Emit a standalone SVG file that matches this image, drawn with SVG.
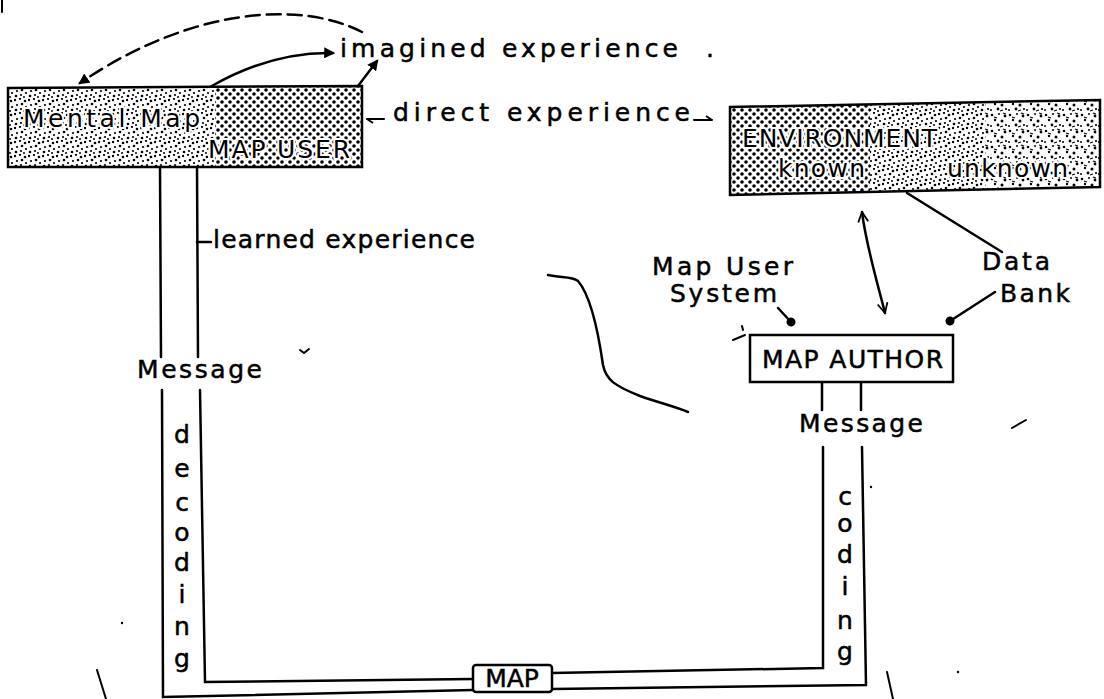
<svg xmlns="http://www.w3.org/2000/svg" width="1104" height="699" viewBox="0 0 1104 699">
<style>
text{font-family:"DejaVu Sans","Liberation Sans",sans-serif;font-size:25px;fill:#000;stroke:#000;stroke-width:0.5;}
.halo{stroke:#fff;stroke-width:4;paint-order:stroke;stroke-linejoin:round;}
.ln{fill:none;stroke:#000;stroke-width:2.5;stroke-linecap:round;}
.thin{fill:none;stroke:#000;stroke-width:2;stroke-linecap:round;}
.box{fill:#fff;stroke:#000;stroke-width:2.5;}
</style>
<defs>
<pattern id="reg" width="8" height="8" patternUnits="userSpaceOnUse">
<rect width="8" height="8" fill="#fff"/>
<circle cx="2" cy="2" r="1.8" fill="#000"/><circle cx="6" cy="6" r="1.8" fill="#000"/>
</pattern>
<pattern id="fine" width="14" height="14" patternUnits="userSpaceOnUse">
<rect width="14" height="14" fill="#fff"/>
<g fill="#000"><circle cx="1" cy="2" r="1.2"/><circle cx="6" cy="1" r="1.1"/><circle cx="11" cy="3" r="1.3"/><circle cx="3" cy="7" r="1.1"/><circle cx="8" cy="6" r="1.3"/><circle cx="12" cy="9" r="1.1"/><circle cx="2" cy="12" r="1.3"/><circle cx="7" cy="11" r="1.1"/><circle cx="10" cy="13" r="1"/></g>
</pattern>
<pattern id="rand" width="18" height="16" patternUnits="userSpaceOnUse">
<rect width="18" height="16" fill="#fff"/>
<g fill="#000"><circle cx="2" cy="3" r="1.3"/><circle cx="9" cy="2" r="1"/><circle cx="15" cy="4" r="1.4"/><circle cx="5" cy="8" r="1.2"/><circle cx="12" cy="9" r="1.5"/><circle cx="1" cy="14" r="1"/><circle cx="8" cy="13" r="1.4"/><circle cx="16" cy="13" r="1.1"/></g>
<g stroke="#000" stroke-width="1.2"><line x1="4" y1="5" x2="7" y2="6"/><line x1="13" y1="1" x2="16" y2="2"/><line x1="10" y1="15" x2="13" y2="14"/></g>
</pattern>
<marker id="fa" viewBox="0 0 10 10" refX="8" refY="5" markerWidth="11" markerHeight="11" markerUnits="userSpaceOnUse" orient="auto">
<path d="M0,0 L10,5 L0,10 Z" fill="#000"/>
</marker>
<marker id="dot" viewBox="0 0 10 10" refX="5" refY="5" markerWidth="10" markerHeight="10" markerUnits="userSpaceOnUse" orient="auto">
<circle cx="5" cy="5" r="4.5" fill="#000"/>
</marker>
<marker id="oa" viewBox="0 0 12 12" refX="11" refY="6" markerWidth="12" markerHeight="12" markerUnits="userSpaceOnUse" orient="auto-start-reverse">
<path d="M1,1 L11,6 L1,11" fill="none" stroke="#000" stroke-width="1.8"/>
</marker>
<marker id="ha" viewBox="0 0 10 10" refX="9" refY="8" markerWidth="10" markerHeight="10" markerUnits="userSpaceOnUse" orient="auto">
<path d="M3,4 L9,8" fill="none" stroke="#000" stroke-width="1.8"/>
</marker>
</defs>

<g id="connectors">
<path class="ln" d="M362,32 C300,0 190,8 80,83" stroke-dasharray="14,7" marker-end="url(#fa)"/>
<path class="ln" d="M210,87 C250,64 290,52 333,53" marker-end="url(#fa)"/>
<path class="ln" d="M358,86 L377,61" marker-end="url(#fa)"/>
<path class="thin" d="M384,119 L367,119" marker-end="url(#ha)"/>
<path class="thin" d="M694,120 L712,120" marker-end="url(#ha)"/>
<path class="ln" d="M907,193 L1002,252"/>
<path class="ln" d="M995,292 L950,321" marker-end="url(#dot)"/>
<path class="ln" d="M778,308 L791,322" marker-end="url(#dot)"/>
<path class="ln" d="M862,212 C866,245 878,285 885,313" marker-start="url(#oa)" marker-end="url(#oa)"/>
<path class="ln" d="M197,242 L211,242"/>
<path class="ln" d="M160,167 L161,357 M162,390 L163,697 L473,690"/>
<path class="ln" d="M197,167 L198,357 M200,390 L205,682 L473,679"/>
<path class="ln" d="M822,382 L822,410 M861,382 L861,410"/>
<path class="ln" d="M823,447 L823,668 L552,673"/>
<path class="ln" d="M862,447 L866,685 L552,689"/>
<path class="ln" d="M548,275 C560,278 572,276 578,281 C590,295 598,330 603,365 C606,380 615,386 640,396 C660,403 676,407 688,412"/>
<path class="thin" d="M2,0 L2,12"/>
<path class="thin" d="M300,350 L304,353 L309,349"/>
<path class="thin" d="M733,340 L745,335"/>
<path class="thin" d="M742,326 L743,330"/>
<path class="thin" d="M1012,428 L1026,420"/>
<path class="thin" d="M887,672 L893,699"/>
<path class="thin" d="M97,670 L106,699"/>
<circle cx="122" cy="623" r="1.2"/>
<circle cx="958" cy="672" r="1.2"/>
<circle cx="871" cy="487" r="1.2"/>
</g>

<g id="map-user">
<path d="M8,88 L362,86 L362,167 L8,167 Z" fill="url(#reg)"/>
<path d="M8,88 L215,87 L215,167 L8,167 Z" fill="url(#fine)"/>
<path d="M8,88 L362,86 L362,167 L8,167 Z" fill="none" stroke="#000" stroke-width="2.5"/>
<text class="halo" x="23" y="127" textLength="177" lengthAdjust="spacing">Mental Map</text>
<text class="halo" x="208" y="158" textLength="142" lengthAdjust="spacing">MAP USER</text>
</g>

<g id="imagined-experience">
<text x="340" y="57" textLength="338" lengthAdjust="spacing">imagined experience</text>
<text x="706" y="57">.</text>
</g>

<g id="direct-experience">
<text x="393" y="121" textLength="297" lengthAdjust="spacing">direct experience</text>
</g>

<g id="environment">
<path d="M730,107 L1100,100 L1100,187 L730,195 Z" fill="url(#reg)"/>
<path d="M870,104 L1100,100 L1100,187 L870,192 Z" fill="url(#fine)"/>
<path d="M985,102 L1100,100 L1100,187 L985,189 Z" fill="url(#rand)"/>
<path d="M730,107 L1100,100 L1100,187 L730,195 Z" fill="none" stroke="#000" stroke-width="2.5"/>
<text class="halo" x="742" y="147" textLength="195" lengthAdjust="spacing">ENVIRONMENT</text>
<text class="halo" x="778" y="177" textLength="87" lengthAdjust="spacing">known</text>
<text class="halo" x="947" y="177" textLength="121" lengthAdjust="spacing">unknown</text>
</g>

<g id="learned-experience">
<text x="213" y="248" textLength="262" lengthAdjust="spacing">learned experience</text>
</g>

<g id="map-user-system">
<text x="652" y="275" textLength="141" lengthAdjust="spacing">Map User</text>
<text x="670" y="302" textLength="107" lengthAdjust="spacing">System</text>
</g>

<g id="data-bank">
<text x="982" y="270" textLength="68" lengthAdjust="spacing">Data</text>
<text x="1000" y="302" textLength="70" lengthAdjust="spacing">Bank</text>
</g>

<g id="map-author">
<rect class="box" x="750" y="335" width="203" height="47"/>
<text x="762" y="368" textLength="181" lengthAdjust="spacing">MAP AUTHOR</text>
</g>

<g id="message-left">
<text x="137" y="378" textLength="125" lengthAdjust="spacing">Message</text>
</g>

<g id="message-right">
<text x="799" y="432" textLength="124" lengthAdjust="spacing">Message</text>
</g>

<g id="decoding" text-anchor="middle">
<text x="182" y="443">d</text>
<text x="182" y="477">e</text>
<text x="182" y="511">c</text>
<text x="182" y="541">o</text>
<text x="182" y="571">d</text>
<text x="182" y="603">i</text>
<text x="182" y="635">n</text>
<text x="182" y="667">g</text>
</g>

<g id="coding" text-anchor="middle">
<text x="845" y="505">c</text>
<text x="845" y="532">o</text>
<text x="845" y="563">d</text>
<text x="845" y="595">i</text>
<text x="845" y="629">n</text>
<text x="845" y="660">g</text>
</g>

<g id="map">
<rect class="box" x="473" y="665" width="79" height="27" rx="3"/>
<text x="512" y="687" text-anchor="middle">MAP</text>
</g>
</svg>
